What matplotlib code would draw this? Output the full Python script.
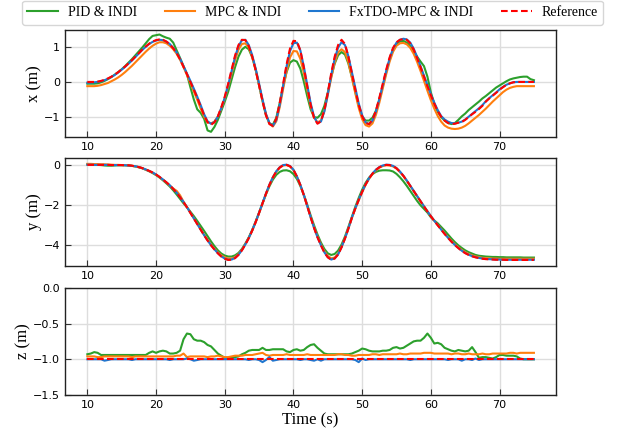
import numpy as np
import matplotlib
matplotlib.use("Agg")
import matplotlib.pyplot as plt

# time axis: 10 s .. 75 s, 0.5 s samples
t = np.arange(10.0, 75.01, 0.5)

labels = ["PID & INDI", "MPC & INDI", "FxTDO-MPC & INDI", "Reference"]
colors = ["#2ca02c", "#ff7f0e", "#1f77d0", "#ff0000"]

x_ref = [
    0.00, 0.00, 0.00, 0.01, 0.03, 0.06, 0.10, 0.15, 0.21, 0.28,
    0.36, 0.44, 0.53, 0.62, 0.72, 0.82, 0.92, 1.01, 1.09, 1.15,
    1.19, 1.21, 1.20, 1.15, 1.07, 0.96, 0.82, 0.64, 0.43, 0.22,
    0.00, -0.22, -0.45, -0.70, -0.95, -1.15, -1.22, -1.15, -0.98, -0.72,
    -0.42, -0.05, 0.35, 0.75, 1.05, 1.20, 1.19, 1.02, 0.72, 0.33,
    -0.10, -0.55, -0.95, -1.20, -1.25, -1.05, -0.60, -0.05, 0.50, 0.95,
    1.17, 1.16, 0.90, 0.42, -0.12, -0.65, -1.03, -1.19, -1.12, -0.80,
    -0.30, 0.25, 0.72, 1.05, 1.20, 1.08, 0.72, 0.25, -0.22, -0.65,
    -0.98, -1.17, -1.20, -1.08, -0.82, -0.45, -0.05, 0.35, 0.70, 0.97,
    1.13, 1.20, 1.22, 1.20, 1.10, 0.92, 0.68, 0.42, 0.15, -0.12,
    -0.38, -0.62, -0.83, -0.99, -1.10, -1.17, -1.20, -1.19, -1.16, -1.14,
    -1.08, -1.00, -0.92, -0.85, -0.77, -0.68, -0.56, -0.47, -0.39, -0.31,
    -0.22, -0.15, -0.08, -0.04, -0.01, 0.00, 0.00, 0.00, 0.00, 0.00,
    0.00]
x_fxtdo = [
    -0.02, -0.02, -0.01, 0.00, 0.02, 0.05, 0.09, 0.14, 0.20, 0.27,
    0.35, 0.43, 0.52, 0.61, 0.71, 0.81, 0.91, 1.00, 1.08, 1.14,
    1.18, 1.20, 1.19, 1.15, 1.08, 0.97, 0.84, 0.66, 0.45, 0.24,
    0.03, -0.19, -0.42, -0.66, -0.92, -1.12, -1.19, -1.14, -0.99, -0.74,
    -0.45, -0.09, 0.31, 0.71, 1.02, 1.19, 1.20, 1.05, 0.76, 0.38,
    -0.05, -0.50, -0.91, -1.17, -1.25, -1.09, -0.66, -0.11, 0.44, 0.88,
    1.10, 1.12, 0.90, 0.45, -0.08, -0.60, -0.99, -1.17, -1.13, -0.84,
    -0.35, 0.20, 0.66, 0.98, 1.13, 1.05, 0.73, 0.28, -0.18, -0.61,
    -0.95, -1.15, -1.20, -1.10, -0.85, -0.49, -0.09, 0.31, 0.67, 0.95,
    1.12, 1.20, 1.23, 1.21, 1.12, 0.95, 0.71, 0.45, 0.18, -0.09,
    -0.35, -0.59, -0.80, -0.97, -1.07, -1.13, -1.17, -1.18, -1.16, -1.13,
    -1.07, -0.99, -0.91, -0.83, -0.75, -0.66, -0.55, -0.46, -0.38, -0.30,
    -0.21, -0.14, -0.08, -0.04, -0.01, 0.00, 0.00, 0.00, 0.00, 0.00,
    0.00]
x_mpc = [
    -0.12, -0.12, -0.12, -0.11, -0.09, -0.06, -0.03, 0.02, 0.07, 0.13,
    0.20, 0.28, 0.37, 0.46, 0.56, 0.66, 0.76, 0.86, 0.95, 1.03,
    1.09, 1.13, 1.13, 1.10, 1.03, 0.93, 0.80, 0.63, 0.42, 0.20,
    -0.03, -0.27, -0.51, -0.76, -0.99, -1.15, -1.18, -1.13, -0.98, -0.75,
    -0.47, -0.13, 0.24, 0.61, 0.92, 1.08, 1.10, 0.98, 0.72, 0.35,
    -0.08, -0.52, -0.92, -1.18, -1.27, -1.12, -0.72, -0.20, 0.30, 0.70,
    0.88, 0.87, 0.66, 0.27, -0.22, -0.68, -1.02, -1.15, -1.10, -0.82,
    -0.37, 0.12, 0.55, 0.84, 0.93, 0.85, 0.56, 0.13, -0.32, -0.74,
    -1.06, -1.23, -1.27, -1.18, -0.94, -0.59, -0.18, 0.22, 0.58, 0.86,
    1.03, 1.10, 1.11, 1.07, 0.97, 0.80, 0.57, 0.31, 0.03, -0.25,
    -0.52, -0.76, -0.97, -1.13, -1.24, -1.30, -1.33, -1.34, -1.33, -1.30,
    -1.25, -1.18, -1.10, -1.02, -0.94, -0.85, -0.76, -0.66, -0.56, -0.47,
    -0.38, -0.29, -0.22, -0.17, -0.14, -0.12, -0.12, -0.12, -0.12, -0.12,
    -0.12]
x_pid = [
    -0.05, -0.05, -0.05, -0.04, -0.01, 0.03, 0.08, 0.14, 0.21, 0.28,
    0.36, 0.45, 0.55, 0.65, 0.76, 0.87, 0.98, 1.10, 1.22, 1.31,
    1.33, 1.35, 1.30, 1.26, 1.23, 1.12, 0.90, 0.68, 0.45, 0.22,
    -0.15, -0.50, -0.78, -0.88, -1.05, -1.38, -1.42, -1.28, -1.08, -0.82,
    -0.56, -0.28, 0.07, 0.42, 0.72, 0.92, 1.00, 0.93, 0.70, 0.35,
    -0.10, -0.55, -0.95, -1.18, -1.22, -1.02, -0.60, -0.12, 0.28, 0.55,
    0.62, 0.58, 0.38, 0.02, -0.40, -0.78, -1.00, -1.02, -0.92, -0.68,
    -0.30, 0.15, 0.52, 0.76, 0.85, 0.78, 0.52, 0.14, -0.28, -0.68,
    -0.98, -1.10, -1.10, -1.02, -0.82, -0.50, -0.12, 0.28, 0.64, 0.92,
    1.08, 1.15, 1.17, 1.12, 1.02, 0.88, 0.72, 0.58, 0.45, 0.15,
    -0.30, -0.62, -0.85, -1.00, -1.10, -1.17, -1.20, -1.17, -1.08, -0.98,
    -0.90, -0.80, -0.72, -0.64, -0.56, -0.47, -0.40, -0.32, -0.24, -0.16,
    -0.10, -0.04, 0.02, 0.07, 0.10, 0.12, 0.14, 0.15, 0.15, 0.08,
    0.05]

y_ref = [
    0.00, 0.00, 0.00, 0.00, 0.00, 0.00, 0.00, -0.01, -0.01, -0.01,
    -0.01, -0.02, -0.02, -0.04, -0.07, -0.11, -0.16, -0.23, -0.30, -0.38,
    -0.48, -0.60, -0.73, -0.87, -1.02, -1.20, -1.40, -1.62, -1.86, -2.12,
    -2.40, -2.68, -2.97, -3.25, -3.52, -3.78, -4.02, -4.23, -4.42, -4.58,
    -4.69, -4.75, -4.74, -4.66, -4.50, -4.27, -3.98, -3.66, -3.28, -2.86,
    -2.40, -1.92, -1.44, -1.00, -0.63, -0.33, -0.13, -0.02, 0.00, -0.07,
    -0.25, -0.58, -1.00, -1.50, -2.05, -2.62, -3.15, -3.62, -4.02, -4.38,
    -4.62, -4.74, -4.68, -4.48, -4.12, -3.68, -3.18, -2.65, -2.18, -1.75,
    -1.35, -0.98, -0.68, -0.44, -0.25, -0.12, -0.04, 0.00, -0.01, -0.06,
    -0.17, -0.34, -0.55, -0.79, -1.05, -1.31, -1.57, -1.83, -2.08, -2.33,
    -2.57, -2.80, -3.02, -3.24, -3.45, -3.65, -3.84, -4.01, -4.16, -4.30,
    -4.41, -4.50, -4.57, -4.62, -4.66, -4.69, -4.71, -4.72, -4.73, -4.74,
    -4.74, -4.74, -4.75, -4.75, -4.75, -4.75, -4.75, -4.75, -4.75, -4.75,
    -4.75]
y_fxtdo = [
    0.01, 0.01, 0.00, 0.00, 0.00, 0.00, 0.00, -0.01, -0.01, -0.01,
    -0.01, -0.02, -0.03, -0.05, -0.07, -0.11, -0.16, -0.23, -0.30, -0.38,
    -0.48, -0.60, -0.73, -0.87, -1.02, -1.20, -1.39, -1.61, -1.85, -2.11,
    -2.39, -2.67, -2.96, -3.24, -3.51, -3.77, -4.01, -4.22, -4.41, -4.57,
    -4.68, -4.74, -4.73, -4.65, -4.49, -4.26, -3.97, -3.65, -3.27, -2.85,
    -2.39, -1.91, -1.43, -0.99, -0.62, -0.32, -0.12, -0.01, 0.01, -0.06,
    -0.24, -0.57, -0.99, -1.49, -2.04, -2.61, -3.14, -3.61, -4.01, -4.37,
    -4.61, -4.73, -4.67, -4.47, -4.11, -3.67, -3.17, -2.64, -2.17, -1.74,
    -1.34, -0.97, -0.67, -0.43, -0.24, -0.11, -0.03, 0.01, 0.00, -0.05,
    -0.16, -0.33, -0.54, -0.78, -1.04, -1.30, -1.56, -1.82, -2.07, -2.32,
    -2.56, -2.79, -3.01, -3.23, -3.44, -3.64, -3.83, -4.00, -4.15, -4.29,
    -4.40, -4.49, -4.56, -4.61, -4.65, -4.68, -4.70, -4.71, -4.72, -4.73,
    -4.73, -4.74, -4.74, -4.74, -4.74, -4.74, -4.74, -4.74, -4.74, -4.74,
    -4.74]
y_mpc = [
    0.05, 0.05, 0.04, 0.04, 0.03, 0.03, 0.02, 0.01, 0.00, 0.00,
    -0.01, -0.02, -0.03, -0.05, -0.08, -0.12, -0.17, -0.24, -0.31, -0.39,
    -0.49, -0.61, -0.74, -0.88, -1.03, -1.18, -1.30, -1.52, -1.84, -2.11,
    -2.39, -2.67, -2.95, -3.23, -3.50, -3.75, -3.98, -4.19, -4.37, -4.52,
    -4.62, -4.68, -4.68, -4.61, -4.46, -4.24, -3.96, -3.65, -3.28, -2.87,
    -2.41, -1.93, -1.45, -1.01, -0.64, -0.34, -0.14, -0.03, -0.01, -0.08,
    -0.26, -0.59, -1.01, -1.51, -2.05, -2.61, -3.13, -3.59, -3.98, -4.32,
    -4.55, -4.67, -4.63, -4.44, -4.10, -3.67, -3.18, -2.66, -2.19, -1.77,
    -1.37, -1.00, -0.70, -0.46, -0.27, -0.14, -0.06, -0.02, -0.03, -0.08,
    -0.19, -0.36, -0.56, -0.80, -1.06, -1.32, -1.57, -1.82, -2.07, -2.32,
    -2.56, -2.79, -3.00, -3.21, -3.42, -3.62, -3.80, -3.97, -4.12, -4.25,
    -4.36, -4.45, -4.52, -4.57, -4.61, -4.64, -4.66, -4.67, -4.68, -4.68,
    -4.69, -4.69, -4.69, -4.69, -4.69, -4.69, -4.69, -4.69, -4.69, -4.69,
    -4.69]
y_pid = [
    0.02, 0.02, 0.01, 0.00, -0.01, -0.03, -0.04, -0.04, -0.03, -0.02,
    -0.02, -0.02, -0.03, -0.05, -0.08, -0.12, -0.17, -0.24, -0.32, -0.41,
    -0.51, -0.63, -0.77, -0.92, -1.08, -1.27, -1.48, -1.70, -1.92, -2.12,
    -2.34, -2.56, -2.80, -3.05, -3.30, -3.56, -3.82, -4.06, -4.27, -4.43,
    -4.53, -4.58, -4.58, -4.52, -4.40, -4.20, -3.93, -3.62, -3.25, -2.83,
    -2.38, -1.92, -1.47, -1.07, -0.74, -0.50, -0.35, -0.28, -0.27, -0.32,
    -0.46, -0.70, -1.05, -1.48, -1.98, -2.52, -3.02, -3.48, -3.88, -4.20,
    -4.42, -4.50, -4.45, -4.28, -3.98, -3.58, -3.10, -2.60, -2.10, -1.65,
    -1.24, -0.90, -0.64, -0.46, -0.35, -0.29, -0.27, -0.27, -0.28, -0.33,
    -0.45, -0.62, -0.82, -1.05, -1.30, -1.55, -1.80, -2.02, -2.20, -2.38,
    -2.62, -2.78, -2.92, -3.10, -3.28, -3.48, -3.68, -3.86, -4.02, -4.15,
    -4.27, -4.36, -4.43, -4.50, -4.54, -4.56, -4.58, -4.59, -4.60, -4.60,
    -4.61, -4.61, -4.62, -4.62, -4.62, -4.62, -4.62, -4.63, -4.63, -4.63,
    -4.63]

z_ref = [-1.00] * 131
z_fxtdo = [
    -1.00, -1.00, -1.00, -1.00, -1.00, -1.02, -1.01, -1.00, -1.00, -1.00,
    -1.00, -1.00, -1.00, -1.01, -1.00, -1.00, -1.00, -1.00, -1.00, -1.00,
    -1.00, -1.00, -1.00, -1.00, -1.01, -1.00, -1.00, -1.00, -1.00, -0.99,
    -1.00, -1.02, -1.01, -1.00, -1.00, -1.00, -1.00, -1.00, -1.00, -1.00,
    -1.00, -1.00, -1.00, -1.00, -1.00, -1.00, -1.00, -1.01, -1.00, -1.00,
    -1.01, -1.04, -1.01, -0.97, -1.02, -1.01, -1.00, -1.00, -1.00, -1.00,
    -1.00, -1.00, -1.01, -1.00, -1.00, -1.01, -1.02, -1.00, -1.02, -1.00,
    -1.00, -1.00, -1.00, -1.00, -1.00, -1.00, -1.00, -1.00, -1.01, -1.04,
    -0.99, -1.01, -1.00, -1.00, -1.00, -1.00, -1.00, -1.00, -1.00, -1.00,
    -1.00, -1.00, -1.00, -1.00, -1.01, -1.00, -1.00, -1.00, -1.00, -1.00,
    -1.00, -1.00, -1.00, -1.00, -1.00, -1.01, -1.00, -1.00, -1.00, -1.02,
    -1.00, -1.00, -1.01, -0.99, -1.01, -1.00, -1.00, -1.00, -1.00, -1.00,
    -1.00, -1.00, -1.00, -1.00, -1.00, -1.00, -1.00, -1.00, -1.00, -1.00,
    -1.00]
z_mpc = [
    -0.96, -0.96, -0.96, -0.97, -0.97, -0.96, -0.96, -0.96, -0.96, -0.96,
    -0.96, -0.96, -0.96, -0.97, -0.96, -0.96, -0.96, -0.96, -0.96, -0.96,
    -0.96, -0.96, -0.96, -0.96, -0.96, -0.96, -0.95, -0.95, -0.92, -0.97,
    -0.96, -0.96, -0.96, -0.96, -0.96, -0.97, -0.96, -0.96, -0.95, -0.96,
    -0.97, -0.97, -0.96, -0.95, -0.95, -0.95, -0.94, -0.94, -0.94, -0.93,
    -0.92, -0.91, -0.94, -0.95, -0.94, -0.94, -0.94, -0.94, -0.93, -0.94,
    -0.94, -0.94, -0.94, -0.94, -0.93, -0.94, -0.94, -0.94, -0.94, -0.94,
    -0.94, -0.94, -0.94, -0.93, -0.93, -0.94, -0.94, -0.95, -0.95, -0.94,
    -0.94, -0.94, -0.94, -0.93, -0.93, -0.94, -0.93, -0.93, -0.93, -0.93,
    -0.93, -0.92, -0.93, -0.93, -0.92, -0.92, -0.92, -0.92, -0.91, -0.91,
    -0.91, -0.92, -0.92, -0.92, -0.92, -0.92, -0.93, -0.92, -0.92, -0.93,
    -0.93, -0.92, -0.93, -0.93, -0.93, -0.92, -0.93, -0.93, -0.92, -0.92,
    -0.92, -0.92, -0.92, -0.91, -0.91, -0.92, -0.91, -0.91, -0.91, -0.91,
    -0.91]
z_pid = [
    -0.93, -0.92, -0.90, -0.91, -0.94, -0.94, -0.94, -0.94, -0.94, -0.94,
    -0.94, -0.94, -0.94, -0.94, -0.94, -0.94, -0.94, -0.94, -0.91, -0.89,
    -0.91, -0.89, -0.88, -0.89, -0.92, -0.92, -0.91, -0.88, -0.72, -0.64,
    -0.65, -0.72, -0.74, -0.74, -0.76, -0.80, -0.82, -0.87, -0.92, -0.95,
    -0.98, -0.98, -0.97, -0.97, -0.96, -0.93, -0.91, -0.88, -0.87, -0.87,
    -0.87, -0.84, -0.87, -0.87, -0.86, -0.86, -0.86, -0.86, -0.89, -0.90,
    -0.87, -0.86, -0.88, -0.87, -0.83, -0.80, -0.79, -0.84, -0.88, -0.92,
    -0.93, -0.93, -0.93, -0.93, -0.93, -0.93, -0.93, -0.92, -0.90, -0.88,
    -0.85, -0.86, -0.88, -0.89, -0.89, -0.89, -0.88, -0.88, -0.87, -0.84,
    -0.83, -0.85, -0.84, -0.81, -0.78, -0.75, -0.74, -0.74, -0.70, -0.64,
    -0.70, -0.78, -0.77, -0.79, -0.84, -0.86, -0.88, -0.89, -0.87, -0.88,
    -0.89, -0.88, -0.83, -0.90, -0.98, -0.97, -0.97, -0.98, -0.99, -0.97,
    -0.94, -0.94, -0.95, -0.95, -0.95, -0.96, -0.99, -1.00, -1.00, -1.00,
    -1.00]

panels = [
    ("x (m)", [x_pid, x_mpc, x_fxtdo, x_ref], None, [-1, 0, 1]),
    ("y (m)", [y_pid, y_mpc, y_fxtdo, y_ref], (-5.05, 0.33), [-4, -2, 0]),
    ("z (m)", [z_pid, z_mpc, z_fxtdo, z_ref], (-1.5, 0.0), [-1.5, -1.0, -0.5, 0.0]),
]

serif = ["Liberation Serif", "DejaVu Serif"]

fig = plt.figure(figsize=(6.25, 4.36), dpi=100)
rects = [
    [0.104, 0.6865, 0.786, 0.2455],
    [0.104, 0.390, 0.786, 0.247],
    [0.104, 0.094, 0.786, 0.246],
]
axes = []
for rect, (ylab, series, ylim, yticks) in zip(rects, panels):
    ax = fig.add_axes(rect)
    for i, (s, c, lab) in enumerate(zip(series, colors, labels)):
        if i == 3:
            ax.plot(t, s, color=c, lw=1.5, ls=(0, (3.2, 1.6)), label=lab, zorder=5)
        else:
            ax.plot(t, s, color=c, lw=1.5, label=lab, zorder=2 + i)
    if ylim is not None:
        ax.set_ylim(*ylim)
    ax.set_yticks(yticks)
    ax.set_xticks([10, 20, 30, 40, 50, 60, 70])
    ax.set_xlim(6.75, 78.25)
    ax.grid(True, color="#dddddd", lw=1.0)
    ax.set_axisbelow(True)
    ax.tick_params(direction="in", labelsize=8, length=4, color="#333333")
    for sp in ax.spines.values():
        sp.set_color("#222222")
        sp.set_linewidth(1.0)
    ax.set_ylabel(ylab, fontfamily=serif, fontsize=12, labelpad=1.0)
    axes.append(ax)

axes[1].set_ylim(-5.05, 0.33)
axes[2].set_yticklabels(["\u22121.5", "\u22121.0", "\u22120.5", "0.0"])
axes[2].set_xlabel("Time (s)", fontfamily=serif, fontsize=12, labelpad=2)

handles, labs = axes[0].get_legend_handles_labels()
leg = fig.legend(handles, labs, loc="upper center", bbox_to_anchor=(0.5, 1.005),
                 ncol=4, frameon=True, fancybox=True, edgecolor="#cccccc",
                 prop={"family": serif, "size": 10}, columnspacing=2.0,
                 handlelength=2.2, handletextpad=0.7, borderaxespad=0.2)

fig.savefig("out.png", dpi=100)
